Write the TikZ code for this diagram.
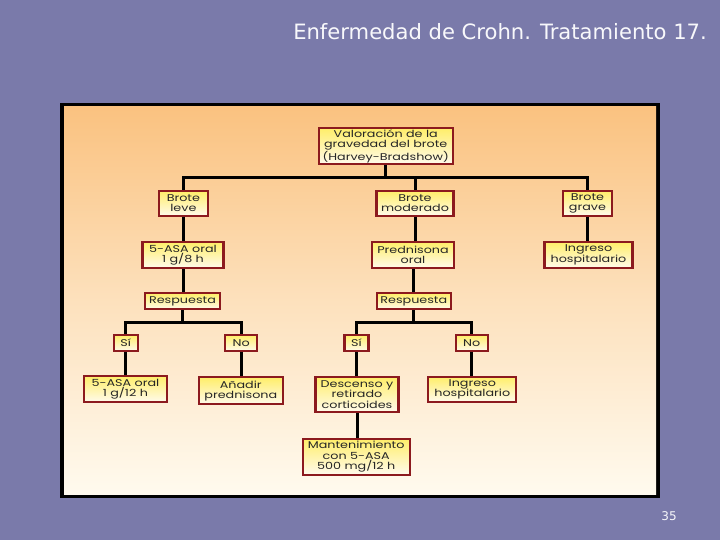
\documentclass[tikz,border=0pt]{standalone}
\usepackage{fontspec}
\setmainfont{DejaVu Sans}
\newfontfamily\boxfont{Poppins}[FakeStretch=1.3]
\usetikzlibrary{calc}
\definecolor{slide}{RGB}{122,122,170}
\definecolor{paneltop}{RGB}{250,194,128}
\definecolor{panelbot}{RGB}{255,250,238}
\definecolor{boxred}{RGB}{140,26,30}
\definecolor{boxtop}{RGB}{255,238,105}
\definecolor{boxbot}{RGB}{255,250,236}
\tikzset{
  bx/.style={draw=boxred, line width=2.2pt, top color=boxtop, bottom color=boxbot,
    inner sep=0pt, align=center, font=\boxfont\fontsize{9.8}{10.4}\selectfont, text=black!85},
  conn/.style={line width=3pt, black},
}
\begin{document}
\begin{tikzpicture}[x=1pt,y=-1pt]
\useasboundingbox (0,0) rectangle (720,540);
\fill[slide] (0,0) rectangle (720,540);
\node[anchor=base east, text=white!95!slide, font=\fontsize{21.1}{24}\selectfont, inner sep=0pt] (title) at (707,40) {Enfermedad de Crohn. Tratamiento 17.};
\node[anchor=center, text=white!95!slide, font=\fontsize{12}{14}\selectfont, inner sep=0pt] (pg) at (669,516) {35};
% panel
\fill[black] (60,103) rectangle (660,498);
\shade[top color=paneltop, bottom color=panelbot, middle color=paneltop!45!panelbot] (64,107) rectangle (656,494);
% nodes
\node[bx, minimum width=134, minimum height=36] (top) at (385.7,146) {Valoración de la\\gravedad del brote\\(Harvey-Bradshow)};
\node[bx, minimum width=49, minimum height=25] (leve) at (183.4,203.4) {Brote\\leve};
\node[bx, minimum width=77, minimum height=25] (mod) at (415,203.4) {Brote\\moderado};
\node[bx, minimum width=49, minimum height=25] (grave) at (587.5,203.4) {Brote\\grave};
\node[bx, minimum width=81, minimum height=26] (asa8) at (183,255) {5-ASA oral\\1 g/8 h};
\node[bx, minimum width=82, minimum height=26] (pred) at (413,255) {Prednisona\\oral};
\node[bx, minimum width=88, minimum height=26] (ing1) at (588.5,255) {Ingreso\\hospitalario};
\node[bx, minimum width=75, minimum height=16] (resp1) at (182.5,301.3) {Respuesta};
\node[bx, minimum width=74, minimum height=16] (resp2) at (413.8,301.3) {Respuesta};
\node[bx, minimum width=24, minimum height=16] (si1) at (125.6,343) {Sí};
\node[bx, minimum width=32, minimum height=16] (no1) at (241.2,343) {No};
\node[bx, minimum width=24, minimum height=16] (si2) at (356.5,343) {Sí};
\node[bx, minimum width=32, minimum height=16] (no2) at (471.6,343) {No};
\node[bx, minimum width=83, minimum height=26] (asa12) at (125.4,389) {5-ASA oral\\1 g/12 h};
\node[bx, minimum width=84, minimum height=27] (anad) at (240.8,390.8) {Añadir\\prednisona};
\node[bx, minimum width=83, minimum height=35] (desc) at (357,394.5) {Descenso y\\retirado\\corticoides};
\node[bx, minimum width=88, minimum height=25] (ing2) at (472.3,389.3) {Ingreso\\hospitalario};
\node[bx, minimum width=107, minimum height=36] (mant) at (356.2,456.6) {Mantenimiento\\con 5-ASA\\500 mg/12 h};
% connectors
\coordinate (j1) at (top.south |- 0,178);
\coordinate (j2) at (resp1.south |- 0,322);
\coordinate (j3) at (resp2.south |- 0,322);
\draw[conn] (top.south) -- (j1);
\draw[conn] (leve.north) |- (j1) -| (grave.north);
\draw[conn] (mod.north) -- (mod.north |- j1);
\draw[conn] (leve.south) -- (leve.south |- asa8.north);
\draw[conn] (mod.south) -- (mod.south |- pred.north);
\draw[conn] (grave.south) -- (grave.south |- ing1.north);
\draw[conn] (asa8.south) -- (asa8.south |- resp1.north);
\draw[conn] (pred.south) -- (pred.south |- resp2.north);
\draw[conn] (resp1.south) -- (j2);
\draw[conn] (si1.north) |- (j2) -| (no1.north);
\draw[conn] (resp2.south) -- (j3);
\draw[conn] (si2.north) |- (j3) -| (no2.north);
\draw[conn] (si1.south) -- (si1.south |- asa12.north);
\draw[conn] (no1.south) -- (no1.south |- anad.north);
\draw[conn] (si2.south) -- (si2.south |- desc.north);
\draw[conn] (no2.south) -- (no2.south |- ing2.north);
\draw[conn] (desc.south) -- (desc.south |- mant.north);
\end{tikzpicture}
\end{document}
